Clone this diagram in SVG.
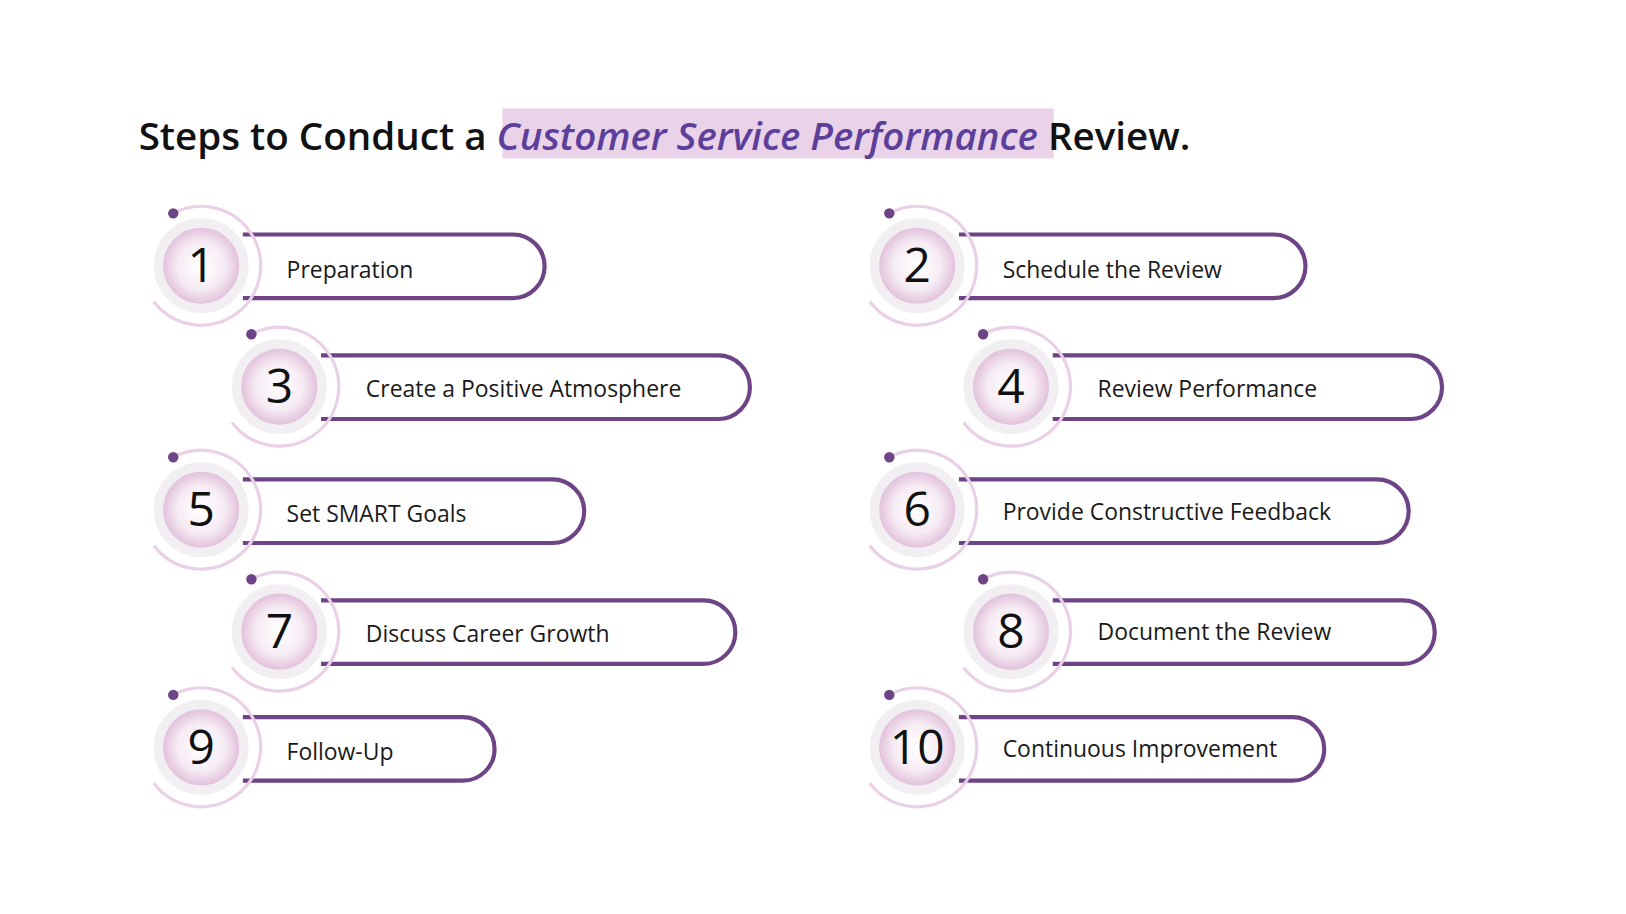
<svg xmlns="http://www.w3.org/2000/svg" width="1626" height="914" viewBox="0 0 1626 914">
<defs>
<radialGradient id="g" cx="0.5" cy="0.5" r="0.5"><stop offset="0" stop-color="#ffffff"/><stop offset="0.55" stop-color="#f6ecf4"/><stop offset="1" stop-color="#dcb4d4"/></radialGradient>
<style>
.pill{fill:none;stroke:#6e4486;stroke-width:4}
.arc{fill:none;stroke:#ead0e6;stroke-width:3}
.ring{fill:url(#g);stroke:#f1eff1;stroke-width:9}
.dot{fill:#6e4486}
.num{font-family:"Open Sans",sans-serif;font-size:46px;fill:#111;text-anchor:middle}
.lbl{font-family:"Open Sans",sans-serif;font-size:22px;fill:#1a1a1a}
</style>
</defs>
<rect width="1626" height="914" fill="#fff"/>
<g transform="scale(1.0423)">
<g id="title">
<rect x="482" y="104" width="529" height="48" fill="#ead3e8"/>
<text x="133" y="144" font-family="'Open Sans',sans-serif" font-size="37" font-weight="600" fill="#111">Steps to Conduct a <tspan fill="#5b3f9a" font-style="italic">Customer Service Performance</tspan> Review.</text>
</g>
<g id="n1" transform="translate(193,255)"><path class="pill" d="M40 -30 H299 A30.5 30.5 0 0 1 299 31 H40"/><path class="arc" d="M-26.8 -50.3 A57 57 0 1 1 -45.5 34.3"/><circle class="dot" cx="-26.8" cy="-50.3" r="5"/><circle class="ring" r="41"/><text class="num" y="16">1</text><text class="lbl" x="82" y="12">Preparation</text></g>
<g id="n2" transform="translate(880,255)"><path class="pill" d="M40 -30 H342 A30.5 30.5 0 0 1 342 31 H40"/><path class="arc" d="M-26.8 -50.3 A57 57 0 1 1 -45.5 34.3"/><circle class="dot" cx="-26.8" cy="-50.3" r="5"/><circle class="ring" r="41"/><text class="num" y="16">2</text><text class="lbl" x="82" y="12">Schedule the Review</text></g>
<g id="n3" transform="translate(268,371)"><path class="pill" d="M40 -30 H421 A30.5 30.5 0 0 1 421 31 H40"/><path class="arc" d="M-26.8 -50.3 A57 57 0 1 1 -45.5 34.3"/><circle class="dot" cx="-26.8" cy="-50.3" r="5"/><circle class="ring" r="41"/><text class="num" y="16">3</text><text class="lbl" x="83" y="10">Create a Positive Atmosphere</text></g>
<g id="n4" transform="translate(970,371)"><path class="pill" d="M40 -30 H383 A30.5 30.5 0 0 1 383 31 H40"/><path class="arc" d="M-26.8 -50.3 A57 57 0 1 1 -45.5 34.3"/><circle class="dot" cx="-26.8" cy="-50.3" r="5"/><circle class="ring" r="41"/><text class="num" y="16">4</text><text class="lbl" x="83" y="10">Review Performance</text></g>
<g id="n5" transform="translate(193,489)"><path class="pill" d="M40 -29 H337 A30.5 30.5 0 0 1 337 32 H40"/><path class="arc" d="M-26.8 -50.3 A57 57 0 1 1 -45.5 34.3"/><circle class="dot" cx="-26.8" cy="-50.3" r="5"/><circle class="ring" r="41"/><text class="num" y="16">5</text><text class="lbl" x="82" y="12">Set SMART Goals</text></g>
<g id="n6" transform="translate(880,489)"><path class="pill" d="M40 -29 H441 A30.5 30.5 0 0 1 441 32 H40"/><path class="arc" d="M-26.8 -50.3 A57 57 0 1 1 -45.5 34.3"/><circle class="dot" cx="-26.8" cy="-50.3" r="5"/><circle class="ring" r="41"/><text class="num" y="16">6</text><text class="lbl" x="82" y="10">Provide Constructive Feedback</text></g>
<g id="n7" transform="translate(268,606)"><path class="pill" d="M40 -30 H407 A30.5 30.5 0 0 1 407 31 H40"/><path class="arc" d="M-26.8 -50.3 A57 57 0 1 1 -45.5 34.3"/><circle class="dot" cx="-26.8" cy="-50.3" r="5"/><circle class="ring" r="41"/><text class="num" y="16">7</text><text class="lbl" x="83" y="10">Discuss Career Growth</text></g>
<g id="n8" transform="translate(970,606)"><path class="pill" d="M40 -30 H376 A30.5 30.5 0 0 1 376 31 H40"/><path class="arc" d="M-26.8 -50.3 A57 57 0 1 1 -45.5 34.3"/><circle class="dot" cx="-26.8" cy="-50.3" r="5"/><circle class="ring" r="41"/><text class="num" y="16">8</text><text class="lbl" x="83" y="8">Document the Review</text></g>
<g id="n9" transform="translate(193,717)"><path class="pill" d="M40 -29 H251 A30.5 30.5 0 0 1 251 32 H40"/><path class="arc" d="M-26.8 -50.3 A57 57 0 1 1 -45.5 34.3"/><circle class="dot" cx="-26.8" cy="-50.3" r="5"/><circle class="ring" r="41"/><text class="num" y="16">9</text><text class="lbl" x="82" y="12">Follow-Up</text></g>
<g id="n10" transform="translate(880,717)"><path class="pill" d="M40 -29 H360 A30.5 30.5 0 0 1 360 32 H40"/><path class="arc" d="M-26.8 -50.3 A57 57 0 1 1 -45.5 34.3"/><circle class="dot" cx="-26.8" cy="-50.3" r="5"/><circle class="ring" r="41"/><text class="num" y="16">10</text><text class="lbl" x="82" y="9">Continuous Improvement</text></g>
<g id="connectors"/>
</g>
</svg>
